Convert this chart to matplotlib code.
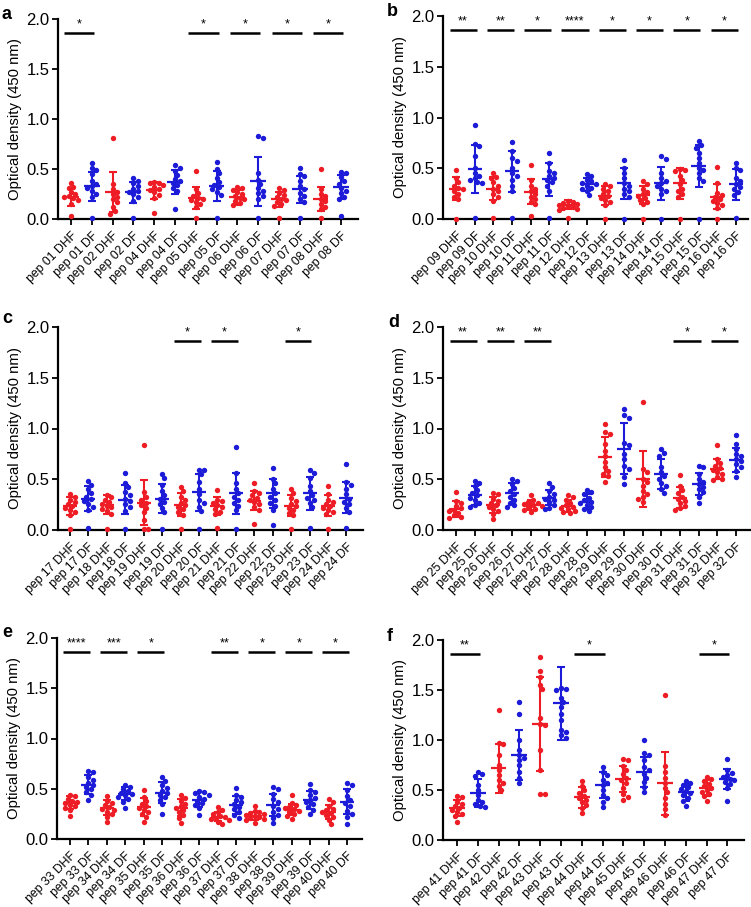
import matplotlib
matplotlib.use('Agg')
import matplotlib.pyplot as plt
import numpy as np

plt.rcParams['font.family'] = ['Liberation Sans', 'DejaVu Sans']

RED = '#ee1d25'
BLUE = '#1b1bd8'

# ---------------- data ----------------
a_peps = ["01", "02", "04", "05", "06", "07", "08"]
a_points = [
    [0.36, 0.32, 0.31, 0.27, 0.25, 0.23, 0.22, 0.21, 0.19, 0.15, 0.03],
    [0.56, 0.51, 0.49, 0.45, 0.38, 0.35, 0.33, 0.31, 0.28, 0.25, 0.22, 0.01],
    [0.81, 0.35, 0.30, 0.27, 0.25, 0.22, 0.20, 0.17, 0.12, 0.08, 0.05],
    [0.41, 0.38, 0.36, 0.33, 0.30, 0.28, 0.27, 0.25, 0.22, 0.18, 0.01],
    [0.37, 0.36, 0.36, 0.34, 0.32, 0.30, 0.29, 0.27, 0.24, 0.21, 0.06],
    [0.54, 0.51, 0.48, 0.44, 0.40, 0.38, 0.36, 0.34, 0.31, 0.28, 0.10],
    [0.48, 0.30, 0.26, 0.23, 0.21, 0.20, 0.19, 0.17, 0.15, 0.12, 0.01],
    [0.57, 0.50, 0.46, 0.41, 0.37, 0.34, 0.32, 0.30, 0.27, 0.24, 0.01],
    [0.32, 0.31, 0.29, 0.27, 0.25, 0.23, 0.21, 0.20, 0.18, 0.16, 0.14],
    [0.83, 0.81, 0.46, 0.39, 0.35, 0.31, 0.28, 0.26, 0.23, 0.20, 0.01],
    [0.31, 0.29, 0.26, 0.24, 0.22, 0.20, 0.19, 0.17, 0.15, 0.13, 0.01],
    [0.51, 0.45, 0.43, 0.38, 0.33, 0.30, 0.26, 0.23, 0.20, 0.17, 0.01],
    [0.50, 0.30, 0.25, 0.23, 0.20, 0.18, 0.15, 0.12, 0.10, 0.01],
    [0.47, 0.46, 0.42, 0.38, 0.35, 0.31, 0.28, 0.26, 0.22, 0.20, 0.03],
]
a_mean = [0.22, 0.33, 0.27, 0.27, 0.29, 0.37, 0.21, 0.33, 0.22, 0.38, 0.20, 0.30, 0.20, 0.32]
a_sd = [0.085, 0.145, 0.20, 0.105, 0.085, 0.12, 0.11, 0.15, 0.075, 0.245, 0.075, 0.135, 0.12, 0.12]
a_sig = {0: "*", 3: "*", 4: "*", 5: "*", 6: "*"}

b_peps = ["09", "10", "11", "12", "13", "14", "15", "16"]
b_points = [
    [0.48, 0.40, 0.36, 0.33, 0.31, 0.30, 0.28, 0.25, 0.22, 0.20, 0.00],
    [0.93, 0.74, 0.72, 0.62, 0.50, 0.45, 0.42, 0.40, 0.38, 0.36, 0.35, 0.01],
    [0.45, 0.41, 0.40, 0.36, 0.33, 0.30, 0.28, 0.25, 0.22, 0.18, 0.01],
    [0.76, 0.67, 0.60, 0.57, 0.50, 0.45, 0.42, 0.38, 0.33, 0.28, 0.01],
    [0.53, 0.38, 0.33, 0.30, 0.28, 0.25, 0.22, 0.20, 0.17, 0.15, 0.03],
    [0.65, 0.55, 0.47, 0.45, 0.42, 0.40, 0.38, 0.36, 0.33, 0.28, 0.01],
    [0.18, 0.17, 0.16, 0.15, 0.14, 0.13, 0.12, 0.11, 0.10, 0.09, 0.01],
    [0.44, 0.42, 0.38, 0.37, 0.35, 0.34, 0.33, 0.31, 0.30, 0.28, 0.24],
    [0.34, 0.33, 0.30, 0.28, 0.25, 0.23, 0.21, 0.19, 0.17, 0.14, 0.00],
    [0.58, 0.50, 0.45, 0.40, 0.35, 0.33, 0.30, 0.28, 0.25, 0.22, 0.00],
    [0.37, 0.34, 0.30, 0.27, 0.25, 0.23, 0.21, 0.19, 0.17, 0.15, 0.00],
    [0.62, 0.59, 0.45, 0.40, 0.37, 0.35, 0.33, 0.30, 0.28, 0.25, 0.00],
    [0.49, 0.48, 0.47, 0.42, 0.38, 0.34, 0.30, 0.28, 0.25, 0.22, 0.00],
    [0.77, 0.73, 0.70, 0.65, 0.60, 0.55, 0.50, 0.48, 0.45, 0.40, 0.37, 0.00],
    [0.51, 0.35, 0.26, 0.24, 0.22, 0.20, 0.18, 0.16, 0.14, 0.11, 0.00],
    [0.55, 0.50, 0.48, 0.40, 0.37, 0.34, 0.32, 0.30, 0.27, 0.24, 0.01],
]
b_mean = [0.30, 0.49, 0.30, 0.47, 0.27, 0.39, 0.14, 0.34, 0.23, 0.35, 0.24, 0.35, 0.35, 0.52, 0.22, 0.34]
b_sd = [0.115, 0.235, 0.115, 0.20, 0.12, 0.165, 0.045, 0.06, 0.095, 0.15, 0.09, 0.165, 0.15, 0.205, 0.12, 0.15]
b_sig = {0: "**", 1: "**", 2: "*", 3: "****", 4: "*", 5: "*", 6: "*", 7: "*"}

c_peps = ["17", "18", "19", "20", "21", "22", "23", "24"]
c_points = [
    [0.35, 0.33, 0.30, 0.28, 0.26, 0.24, 0.22, 0.20, 0.18, 0.15, 0.01],
    [0.48, 0.44, 0.40, 0.36, 0.33, 0.31, 0.29, 0.26, 0.23, 0.20, 0.02],
    [0.34, 0.33, 0.30, 0.28, 0.26, 0.24, 0.23, 0.21, 0.19, 0.16, 0.01],
    [0.56, 0.46, 0.42, 0.37, 0.34, 0.31, 0.29, 0.26, 0.23, 0.19, 0.01],
    [0.84, 0.37, 0.33, 0.30, 0.27, 0.25, 0.22, 0.18, 0.10, 0.01, 0.01],
    [0.55, 0.51, 0.44, 0.38, 0.34, 0.31, 0.28, 0.26, 0.22, 0.18, 0.01],
    [0.42, 0.38, 0.33, 0.30, 0.27, 0.25, 0.23, 0.21, 0.18, 0.15, 0.01],
    [0.59, 0.59, 0.55, 0.47, 0.40, 0.35, 0.30, 0.27, 0.23, 0.19, 0.01],
    [0.39, 0.30, 0.29, 0.27, 0.25, 0.23, 0.21, 0.18, 0.16, 0.02],
    [0.82, 0.56, 0.46, 0.40, 0.36, 0.33, 0.30, 0.27, 0.24, 0.20, 0.01],
    [0.46, 0.38, 0.36, 0.34, 0.32, 0.30, 0.28, 0.26, 0.23, 0.20, 0.06],
    [0.61, 0.50, 0.46, 0.40, 0.36, 0.33, 0.30, 0.27, 0.24, 0.20, 0.05],
    [0.40, 0.36, 0.32, 0.29, 0.26, 0.24, 0.22, 0.20, 0.17, 0.15, 0.01],
    [0.59, 0.56, 0.51, 0.43, 0.38, 0.34, 0.32, 0.30, 0.27, 0.23, 0.02],
    [0.43, 0.35, 0.30, 0.28, 0.26, 0.24, 0.22, 0.20, 0.18, 0.16, 0.01],
    [0.65, 0.47, 0.44, 0.40, 0.35, 0.31, 0.28, 0.26, 0.22, 0.18, 0.02],
]
c_mean = [0.24, 0.31, 0.25, 0.30, 0.27, 0.31, 0.25, 0.37, 0.24, 0.36, 0.29, 0.36, 0.24, 0.36, 0.24, 0.32]
c_sd = [0.09, 0.12, 0.095, 0.145, 0.225, 0.145, 0.11, 0.18, 0.09, 0.20, 0.095, 0.145, 0.10, 0.16, 0.10, 0.15]
c_sig = {3: "*", 4: "*", 6: "*"}

d_peps = ["25", "26", "27", "28", "29", "30", "31", "32"]
d_points = [
    [0.37, 0.29, 0.27, 0.24, 0.22, 0.20, 0.19, 0.17, 0.15, 0.13, 0.12],
    [0.48, 0.46, 0.43, 0.39, 0.36, 0.34, 0.32, 0.30, 0.27, 0.25, 0.23],
    [0.36, 0.35, 0.31, 0.29, 0.27, 0.25, 0.23, 0.21, 0.19, 0.16, 0.11],
    [0.50, 0.48, 0.45, 0.41, 0.38, 0.35, 0.33, 0.30, 0.27, 0.25, 0.23],
    [0.34, 0.30, 0.28, 0.27, 0.26, 0.25, 0.24, 0.23, 0.21, 0.20, 0.18],
    [0.46, 0.42, 0.38, 0.35, 0.33, 0.31, 0.30, 0.28, 0.25, 0.22, 0.21],
    [0.34, 0.33, 0.30, 0.27, 0.25, 0.23, 0.22, 0.21, 0.19, 0.18, 0.17],
    [0.39, 0.37, 0.35, 0.32, 0.30, 0.28, 0.27, 0.25, 0.23, 0.21, 0.19],
    [1.04, 0.97, 0.95, 0.85, 0.78, 0.73, 0.67, 0.62, 0.58, 0.55, 0.53, 0.47],
    [1.19, 1.13, 1.10, 0.86, 0.84, 0.75, 0.70, 0.63, 0.60, 0.52, 0.45],
    [1.26, 0.60, 0.57, 0.50, 0.47, 0.43, 0.38, 0.35, 0.33, 0.31, 0.28],
    [0.80, 0.76, 0.73, 0.62, 0.57, 0.53, 0.50, 0.46, 0.43, 0.40, 0.36],
    [0.54, 0.43, 0.39, 0.36, 0.33, 0.31, 0.29, 0.27, 0.24, 0.22, 0.20],
    [0.63, 0.62, 0.55, 0.50, 0.47, 0.45, 0.42, 0.40, 0.37, 0.33, 0.27],
    [0.84, 0.70, 0.66, 0.63, 0.61, 0.59, 0.57, 0.55, 0.52, 0.50, 0.49],
    [0.94, 0.85, 0.80, 0.75, 0.73, 0.70, 0.68, 0.65, 0.62, 0.58, 0.52],
]
d_mean = [0.21, 0.34, 0.25, 0.36, 0.25, 0.32, 0.24, 0.28, 0.72, 0.80, 0.50, 0.55, 0.32, 0.45, 0.60, 0.69]
d_sd = [0.08, 0.09, 0.08, 0.10, 0.05, 0.075, 0.06, 0.07, 0.195, 0.25, 0.275, 0.15, 0.10, 0.11, 0.10, 0.12]
d_sig = {0: "**", 1: "**", 2: "**", 6: "*", 7: "*"}

e_peps = ["33", "34", "35", "36", "37", "38", "39", "40"]
e_points = [
    [0.44, 0.43, 0.40, 0.38, 0.37, 0.36, 0.34, 0.33, 0.31, 0.29, 0.23],
    [0.68, 0.67, 0.62, 0.59, 0.56, 0.54, 0.52, 0.50, 0.47, 0.44, 0.39],
    [0.43, 0.38, 0.36, 0.34, 0.32, 0.30, 0.29, 0.27, 0.25, 0.22, 0.17],
    [0.54, 0.52, 0.50, 0.48, 0.46, 0.45, 0.44, 0.42, 0.40, 0.37, 0.31],
    [0.49, 0.42, 0.38, 0.35, 0.33, 0.31, 0.29, 0.27, 0.25, 0.22, 0.17],
    [0.62, 0.58, 0.54, 0.51, 0.48, 0.46, 0.44, 0.42, 0.39, 0.35, 0.25],
    [0.44, 0.41, 0.38, 0.35, 0.33, 0.31, 0.29, 0.27, 0.24, 0.21, 0.16],
    [0.48, 0.47, 0.46, 0.44, 0.42, 0.40, 0.38, 0.36, 0.34, 0.31, 0.24],
    [0.32, 0.29, 0.27, 0.25, 0.23, 0.22, 0.21, 0.20, 0.19, 0.17, 0.15],
    [0.51, 0.44, 0.42, 0.39, 0.37, 0.35, 0.32, 0.30, 0.27, 0.24, 0.21],
    [0.33, 0.28, 0.27, 0.26, 0.25, 0.24, 0.23, 0.22, 0.21, 0.20, 0.19, 0.16],
    [0.52, 0.50, 0.45, 0.40, 0.37, 0.33, 0.30, 0.27, 0.24, 0.21, 0.16],
    [0.44, 0.36, 0.34, 0.32, 0.31, 0.30, 0.28, 0.27, 0.25, 0.23, 0.20],
    [0.55, 0.49, 0.47, 0.44, 0.41, 0.39, 0.37, 0.35, 0.32, 0.29, 0.25],
    [0.40, 0.37, 0.33, 0.30, 0.29, 0.27, 0.26, 0.24, 0.22, 0.19, 0.15],
    [0.56, 0.54, 0.49, 0.43, 0.39, 0.36, 0.33, 0.28, 0.25, 0.22, 0.15],
]
e_mean = [0.36, 0.54, 0.31, 0.45, 0.32, 0.46, 0.31, 0.39, 0.22, 0.34, 0.23, 0.34, 0.29, 0.39, 0.27, 0.37]
e_sd = [0.065, 0.095, 0.075, 0.065, 0.09, 0.105, 0.085, 0.075, 0.045, 0.09, 0.04, 0.11, 0.055, 0.09, 0.07, 0.125]
e_sig = {0: "****", 1: "***", 2: "*", 4: "**", 5: "*", 6: "*", 7: "*"}

f_peps = ["41", "42", "43", "44", "45", "46", "47"]
f_points = [
    [0.44, 0.43, 0.38, 0.36, 0.34, 0.32, 0.30, 0.28, 0.26, 0.24, 0.18],
    [0.68, 0.66, 0.64, 0.55, 0.50, 0.45, 0.40, 0.38, 0.36, 0.34, 0.33],
    [1.30, 0.97, 0.96, 0.85, 0.75, 0.70, 0.65, 0.60, 0.57, 0.54, 0.50],
    [1.38, 1.26, 1.00, 0.90, 0.85, 0.82, 0.80, 0.75, 0.68, 0.62, 0.57],
    [1.83, 1.69, 1.63, 1.55, 1.51, 1.22, 1.16, 1.15, 0.90, 0.70, 0.46, 0.46],
    [1.52, 1.51, 1.50, 1.42, 1.38, 1.33, 1.26, 1.20, 1.10, 1.08, 1.05, 1.02],
    [0.59, 0.54, 0.50, 0.47, 0.44, 0.42, 0.40, 0.38, 0.35, 0.32, 0.27],
    [0.73, 0.68, 0.65, 0.60, 0.57, 0.55, 0.50, 0.45, 0.42, 0.38, 0.33],
    [0.81, 0.80, 0.74, 0.70, 0.66, 0.62, 0.60, 0.57, 0.52, 0.46, 0.43, 0.40],
    [1.00, 0.87, 0.85, 0.80, 0.73, 0.70, 0.66, 0.62, 0.58, 0.53, 0.48],
    [1.45, 0.74, 0.68, 0.62, 0.57, 0.52, 0.48, 0.42, 0.36, 0.31, 0.25],
    [0.59, 0.57, 0.55, 0.53, 0.51, 0.49, 0.47, 0.45, 0.42, 0.39, 0.34],
    [0.63, 0.61, 0.59, 0.56, 0.54, 0.52, 0.50, 0.48, 0.46, 0.44, 0.39],
    [0.81, 0.70, 0.67, 0.65, 0.63, 0.61, 0.60, 0.58, 0.56, 0.52, 0.39],
]
f_mean = [0.32, 0.47, 0.72, 0.85, 1.16, 1.37, 0.43, 0.55, 0.61, 0.68, 0.57, 0.48, 0.52, 0.61]
f_sd = [0.08, 0.14, 0.245, 0.25, 0.47, 0.365, 0.105, 0.13, 0.13, 0.15, 0.315, 0.085, 0.08, 0.10]
f_sig = {0: "**", 3: "*", 6: "*"}

groups = ["DHF", "DF"]
y_ticks = [0.0, 0.5, 1.0, 1.5, 2.0]

# ---------------- layout (pixel boxes of the axes) ----------------
W, H = 751, 907
fig = plt.figure(figsize=(W / 100, H / 100), dpi=100)

panels = [
    ("a", a_peps, a_points, a_mean, a_sd, a_sig, [58, 19, 358, 219], (-0.62, 13.8), (2, 6)),
    ("b", b_peps, b_points, b_mean, b_sd, b_sig, [443, 16, 748, 219], (-0.7, 15.65), (387, 3)),
    ("c", c_peps, c_points, c_mean, c_sd, c_sig, [58, 327, 363, 530], (-0.65, 15.9), (2, 310)),
    ("d", d_peps, d_points, d_mean, d_sd, d_sig, [443, 327, 750, 530], (-0.7, 15.75), (388, 314)),
    ("e", e_peps, e_points, e_mean, e_sd, e_sig, [57, 638, 362, 839], (-0.7, 15.8), (2, 624)),
    ("f", f_peps, f_points, f_mean, f_sd, f_sig, [443, 640, 744, 840], (-0.67, 13.8), (387, 628)),
]


def swarm_offsets(vals, px_per_y, d):
    vals = np.asarray(vals)
    order = np.argsort(-vals)
    placed = []
    offs = np.zeros(len(vals))
    cands = [0.0]
    for k in range(1, 8):
        cands += [k * d * 0.5, -k * d * 0.5]
    for i in order:
        y = vals[i] * px_per_y
        for c in cands:
            ok = True
            for (px, py) in placed:
                if (px - c) ** 2 + (py - y) ** 2 < (d * 0.95) ** 2:
                    ok = False
                    break
            if ok:
                offs[i] = c
                placed.append((c, y))
                break
    return offs


for letter, peps, pts, means, sds, sig, box, xlim, lpos in panels:
    x0, y0, x1, y1 = box
    ax = fig.add_axes([x0 / W, 1 - y1 / H, (x1 - x0) / W, (y1 - y0) / H])
    n = len(pts)
    labels = ["pep %s %s" % (peps[i // 2], groups[i % 2]) for i in range(n)]
    px_per_y = (y1 - y0) / 2.0
    px_per_x = (x1 - x0) / (xlim[1] - xlim[0])
    for i in range(n):
        col = RED if i % 2 == 0 else BLUE
        offs = swarm_offsets(pts[i], px_per_y, 4.6) / px_per_x
        ax.scatter(i + offs, pts[i], s=15, color=col, linewidths=0,
                   zorder=3, clip_on=False)
        ax.errorbar(i, means[i], yerr=sds[i], color=col, capsize=3.2,
                    elinewidth=1.5, capthick=1.5, zorder=4, fmt='none')
        ax.hlines(means[i], i - 0.38, i + 0.38, color=col, lw=1.6, zorder=4)
    for k, s in sig.items():
        xa, xb = 2 * k - 0.35, 2 * k + 1 + 0.1
        ax.plot([xa, xb], [1.86, 1.86], color='black', lw=1.8,
                clip_on=False, solid_capstyle='butt')
        ax.text((xa + xb) / 2, 1.89, s, ha='center', va='bottom',
                fontsize=9, clip_on=False)
    ax.set_xlim(*xlim)
    ax.set_ylim(0, 2.0)
    ax.set_yticks(y_ticks)
    ax.set_yticklabels(["%.1f" % v for v in y_ticks], fontsize=12)
    ax.set_xticks(np.arange(n))
    ax.set_xticklabels(labels, rotation=45, ha='right', rotation_mode='anchor',
                       fontsize=8.8)
    for sp in ['top', 'right']:
        ax.spines[sp].set_visible(False)
    for sp in ['left', 'bottom']:
        ax.spines[sp].set_linewidth(1.6)
    ax.tick_params(axis='y', width=1.3, length=4, direction='out', pad=2)
    ax.tick_params(axis='x', width=1.3, length=4, direction='out', pad=4)
    ax.set_ylabel("Optical density (450 nm)", fontsize=10.7, labelpad=3)
    fig.text(lpos[0] / W, 1 - lpos[1] / H, letter, fontsize=13,
             fontweight='bold', ha='left', va='top')

fig.savefig("out.png", dpi=100)
